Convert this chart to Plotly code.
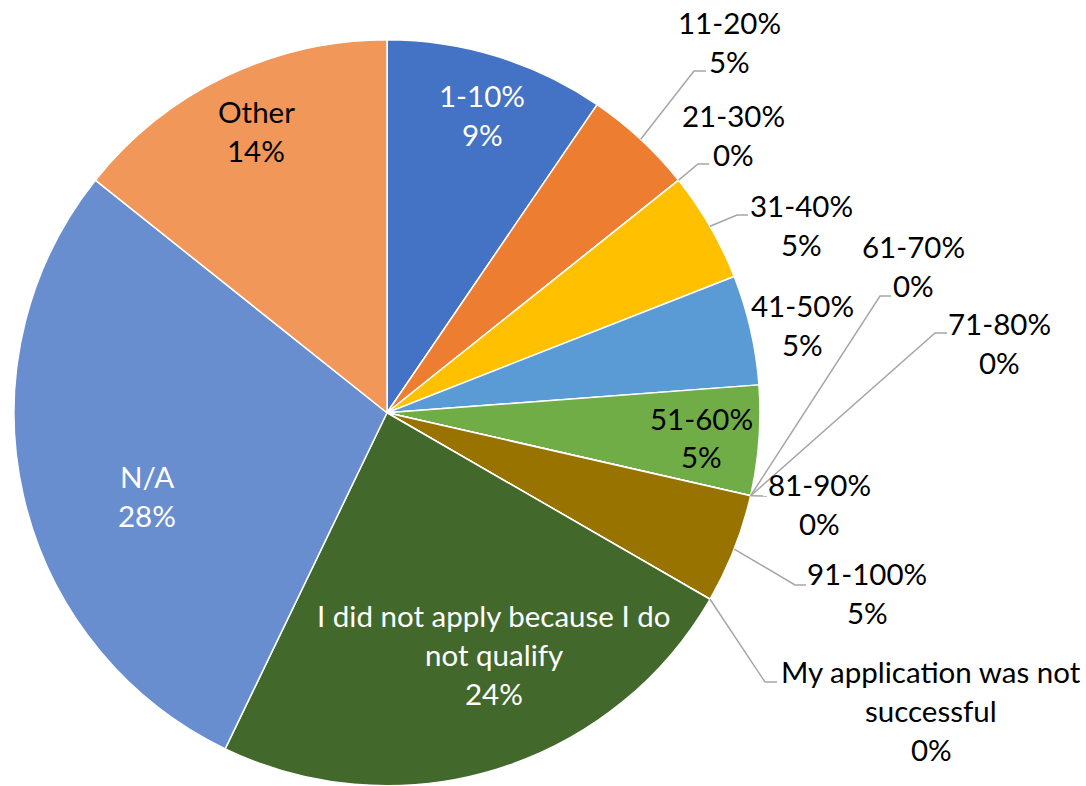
import math
import plotly.graph_objects as go

# ---------------- data ----------------
categories = ["1-10%", "11-20%", "21-30%", "31-40%", "41-50%", "51-60%",
              "61-70%", "71-80%", "81-90%", "91-100%",
              "My application was not successful",
              "I did not apply because I do not qualify",
              "N/A", "Other"]
counts = [2, 1, 0, 1, 1, 1, 0, 0, 0, 1, 0, 5, 6, 3]
pct_labels = ["9%", "5%", "0%", "5%", "5%", "5%", "0%", "0%", "0%", "5%",
              "0%", "24%", "28%", "14%"]
colors = ["#4472C4", "#ED7D31", "#A5A5A5", "#FFC000", "#5B9BD5", "#70AD47",
          "#264478", "#9E480E", "#636363", "#997300", "#255E91", "#43682B",
          "#698ED0", "#F1975A"]

# ---------------- layout constants ----------------
W, H = 1086, 786
CX, CY, R = 387, 412.75, 373
FONT = "Lato"
FS = 29.5
LINE_H = 39
LEADER = "#A6A6A6"

wrapped = {
    "My application was not successful": ["My application was not", "successful"],
    "I did not apply because I do not qualify": ["I did not apply because I do", "not qualify"],
}
# label block centre (px), text colour, leader elbow, leader end
label_pos = {
    "1-10%": (482, 115, "white", None, None),
    "11-20%": (729, 42.5, "black", (694, 71), (706, 71)),
    "21-30%": (733, 135, "black", (698, 164), (709, 164)),
    "31-40%": (801, 225, "black", (737, 215), (748, 215)),
    "41-50%": (802, 324.5, "black", None, None),
    "51-60%": (701, 437.5, "black", None, None),
    "61-70%": (913, 266, "black", (880, 296), (891, 296)),
    "71-80%": (999, 342.5, "black", (935, 333), (947, 333)),
    "81-90%": (819, 504, "black", "straight", (767, 496)),
    "91-100%": (867, 592.5, "black", (795, 585), (806, 585)),
    "My application was not successful": (931, 710, "black", (765, 682), (777, 682)),
    "I did not apply because I do not qualify": (494, 654, "white", None, None),
    "N/A": (147, 496, "white", None, None),
    "Other": (256, 131, "black", None, None),
}


def px(x):
    return x / W


def py(y):
    return 1 - y / H


fig = go.Figure()
fig.add_trace(go.Pie(
    values=counts,
    labels=categories,
    sort=False,
    direction="clockwise",
    rotation=0,
    textinfo="none",
    hoverinfo="label+percent",
    marker=dict(colors=colors, line=dict(color="white", width=1.5)),
    domain=dict(x=[px(CX - R), px(CX + R)], y=[py(CY + R), py(CY - R)]),
    showlegend=False,
))

annotations = []
shapes = []
total = sum(counts)
cum = 0
for cat, v, pct in zip(categories, counts, pct_labels):
    mid = (cum + v / 2) / total * 2 * math.pi
    cum += v
    lx, ly, col, elbow, end = label_pos[cat]
    lines = wrapped.get(cat, [cat]) + [pct]
    n = len(lines)
    for i, t in enumerate(lines):
        yy = ly + (i - (n - 1) / 2) * LINE_H
        annotations.append(dict(
            x=px(lx), y=py(yy), xref="paper", yref="paper",
            text=t, showarrow=False, xanchor="center", yanchor="middle",
            font=dict(family=FONT, size=FS, color=col),
        ))
    if end is not None:
        sx = CX + R * math.sin(mid)
        sy = CY - R * math.cos(mid)
        pts = [(sx, sy)]
        if elbow != "straight":
            pts.append(elbow)
        pts.append(end)
        path = "M " + " L ".join(f"{px(a)},{py(b)}" for a, b in pts)
        shapes.append(dict(type="path", path=path, xref="paper", yref="paper",
                           line=dict(color=LEADER, width=1.5)))

fig.update_layout(
    width=W, height=H,
    margin=dict(l=0, r=0, t=0, b=0),
    paper_bgcolor="white",
    plot_bgcolor="white",
    showlegend=False,
    annotations=annotations,
    shapes=shapes,
)

fig.write_html("out.html",
               config={"displayModeBar": False},
               post_script="document.body.style.margin='0';"
                           "document.body.style.overflow='hidden';")
